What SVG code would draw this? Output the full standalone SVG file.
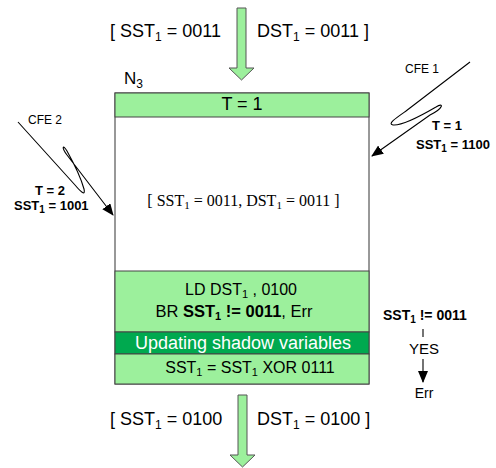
<svg xmlns="http://www.w3.org/2000/svg" width="496" height="468" viewBox="0 0 496 468">
  <style>
    .sans { font-family: "Liberation Sans", Arial, sans-serif; fill: #000; }
    .serif { font-family: "Liberation Serif", "Times New Roman", serif; fill: #000; }
    .b { font-weight: bold; }
    .light { fill: #9cf09c; stroke: #444; stroke-width: 1; }
    .dark { fill: #00a94f; stroke: #444; stroke-width: 1; }
    .flow { fill: #9cf09c; stroke: #555; stroke-width: 1; }
    .edge { fill: none; stroke: #000; stroke-width: 1.1; }
  </style>
  <defs>
    <marker id="head" viewBox="0 0 12 10" refX="11" refY="5" markerWidth="12" markerHeight="10" markerUnits="userSpaceOnUse" orient="auto">
      <path d="M0,0 L12,5 L0,10 Z" fill="#000"/>
    </marker>
  </defs>

  <!-- incoming state -->
  <g id="state-in">
    <path class="flow" d="M237,8 H246 V68 H254 L241.5,80 L229,68 H237 Z"/>
    <text class="sans" x="110" y="37" font-size="18">[ SST<tspan font-size="12" dy="4">1</tspan><tspan dy="-4"> = 0011</tspan></text>
    <text class="sans" x="257" y="37" font-size="18">DST<tspan font-size="12" dy="4">1</tspan><tspan dy="-4"> = 0011 ]</tspan></text>
  </g>

  <!-- node N3 -->
  <g id="n3">
    <text class="sans" x="124" y="84" font-size="17">N<tspan font-size="12" dy="4">3</tspan></text>
    <rect x="115" y="93" width="254" height="291" fill="#fff" stroke="#333" stroke-width="1"/>
    <rect class="light" x="115" y="93" width="254" height="24"/>
    <text class="sans" x="242" y="110" font-size="18" text-anchor="middle">T = 1</text>
    <text class="serif" x="243.5" y="206" font-size="16" text-anchor="middle">[ SST<tspan font-size="11" dy="3">1</tspan><tspan dy="-3"> = 0011, DST</tspan><tspan font-size="11" dy="3">1</tspan><tspan dy="-3"> = 0011 ]</tspan></text>
    <rect class="light" x="115" y="271" width="254" height="61"/>
    <text class="sans" x="241" y="295" font-size="16" text-anchor="middle">LD DST<tspan font-size="11" dy="3">1</tspan><tspan dy="-3"> , 0100</tspan></text>
    <text class="sans" x="234" y="317" font-size="16.5" text-anchor="middle">BR <tspan class="b">SST</tspan><tspan class="b" font-size="11" dy="3">1</tspan><tspan class="b" dy="-3"> != 0011</tspan>, Err</text>
    <rect class="dark" x="115" y="332" width="254" height="22"/>
    <text class="sans" x="243" y="349" font-size="18" text-anchor="middle" style="fill:#fff">Updating shadow variables</text>
    <rect class="light" x="115" y="354" width="254" height="30"/>
    <text class="sans" x="250" y="373" font-size="16" text-anchor="middle">SST<tspan font-size="11" dy="3">1</tspan><tspan dy="-3"> = SST</tspan><tspan font-size="11" dy="3">1</tspan><tspan dy="-3"> XOR 0111</tspan></text>
  </g>

  <!-- outgoing state -->
  <g id="state-out">
    <path class="flow" d="M238,395 H247 V455 H255 L242.5,467 L230,455 H238 Z"/>
    <text class="sans" x="110" y="425" font-size="18">[ SST<tspan font-size="12" dy="4">1</tspan><tspan dy="-4"> = 0100</tspan></text>
    <text class="sans" x="257" y="425" font-size="18">DST<tspan font-size="12" dy="4">1</tspan><tspan dy="-4"> = 0100 ]</tspan></text>
  </g>

  <!-- branch check -->
  <g id="check">
    <text class="sans b" x="383" y="320" font-size="14">SST<tspan font-size="10" dy="3">1</tspan><tspan dy="-3"> != 0011</tspan></text>
    <text class="sans" x="424" y="354" font-size="15" text-anchor="middle">YES</text>
    <text class="sans" x="424" y="398" font-size="14" text-anchor="middle">Err</text>
  </g>

  <!-- faults -->
  <g id="cfe1">
    <text class="sans" x="405" y="73" font-size="12">CFE 1</text>
    <text class="sans b" x="432" y="130" font-size="13">T = 1</text>
    <text class="sans b" x="416" y="149" font-size="13">SST<tspan font-size="10" dy="3">1</tspan><tspan dy="-3"> = 1100</tspan></text>
  </g>
  <g id="cfe2">
    <text class="sans" x="28" y="124" font-size="12">CFE 2</text>
    <text class="sans b" x="35" y="195" font-size="13">T = 2</text>
    <text class="sans b" x="14" y="210" font-size="13">SST<tspan font-size="10" dy="3">1</tspan><tspan dy="-3"> = 1001</tspan></text>
  </g>

  <g id="connectors">
    <path class="edge" d="M470,62 L406,111 C396,118 387,124 393,125 C402,126 424,114 436,107 C444,102 444,108 430,115 L372,156" marker-end="url(#head)"/>
    <path class="edge" d="M18,122 L75,185 C80,191 86,197 84,189 C81,178 72,160 67,151 C63,144 61,147 67,155 L113,215" marker-end="url(#head)"/>
    <line class="edge" x1="423" y1="329" x2="423" y2="337"/>
    <line class="edge" x1="423" y1="359" x2="423" y2="382" marker-end="url(#head)"/>
  </g>
</svg>
